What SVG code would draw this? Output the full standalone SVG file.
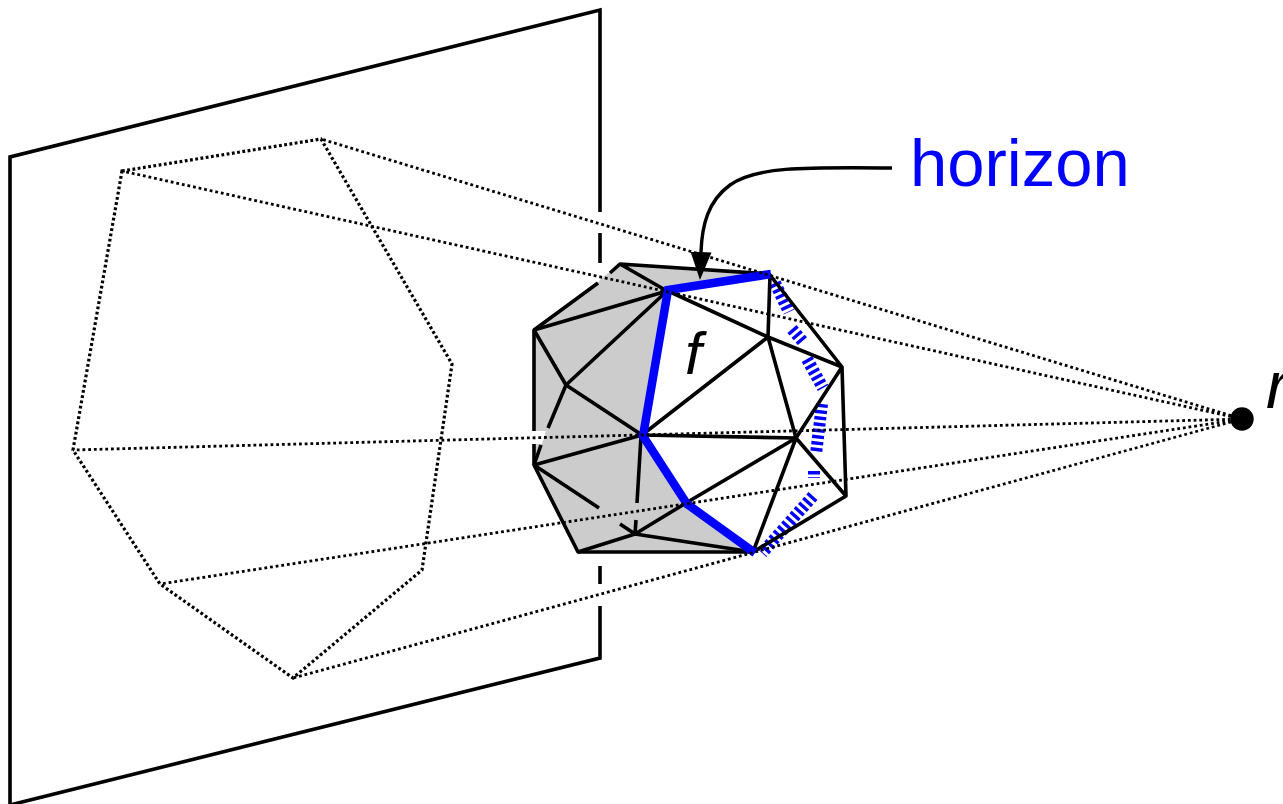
<svg xmlns="http://www.w3.org/2000/svg" width="1283" height="804" viewBox="0 0 1283 804">
<style>
.k{fill:none;stroke:#000;stroke-width:3.6;stroke-linejoin:round;stroke-linecap:butt}
.p{fill:none;stroke:#000;stroke-width:3.6}
.d{fill:none;stroke:#000;stroke-width:2.8;stroke-dasharray:2.8 2.9}
.o{fill:none;stroke:#000;stroke-width:3.2;stroke-dasharray:2.8 2.5}
.b{fill:none;stroke:#00f;stroke-width:8.5;stroke-linejoin:miter}
.h{fill:none;stroke:#00f;stroke-width:12;stroke-dasharray:3.4 2.9}
.t{font-family:"Liberation Sans",Arial,sans-serif}
</style>
<defs>
<marker id="ah" markerUnits="userSpaceOnUse" markerWidth="30" markerHeight="22" refX="0" refY="10.5" orient="auto" viewBox="0 0 30 21">
<path d="M0,0 L28,10.5 L0,21 Z" fill="#000"/>
</marker>
</defs>
<rect width="1283" height="804" fill="#fff"/>
<g id="plane">
<path class="p" d="M600,212 L600,10 L10,157 L10,805 L600,658 L600,606"/>
<path class="p" d="M600,233 V267 M600,566 V584"/>
</g>
<g id="shadow">
<path class="o" d="M122,171 L321,139 L452,364 L422,570 L293,678 L160,584 L73,450 Z"/>
</g>
<g id="polyhedron">
<path fill="#ccc" d="M620,264 L534,330 L534,465 L578,552 L753,552 L686,503 L642,435 L667,291 L700,285 L770,274 Z"/>
<path fill="#fff" d="M530,431 H546 L542,444 H530 Z M597,284 L607,270 L616,263 L585,263 Z"/>
<g id="hidden-edges">
<path class="k" d="M598,283 L534,330 L534,431 M534,444 L534,465 L578,552 L753,552"/>
<path class="k" d="M610,273 L620,264 L667,291 M620,264 L770,274"/>
<path class="k" d="M534,330 L667,291 M534,330 L566,385 L667,291 M566,385 L642,435 L534,465"/>
<path class="k" d="M566,385 L548,428 M541,445 L534,465"/>
<path class="k" d="M534,465 L599,508 M620,524 L635,534 M641,436 L637,503 M636,520 L635,534"/>
<path class="k" d="M578,552 L635,534 L753,552 M635,534 L686,503"/>
</g>
<g id="hidden-horizon">
<path class="h" d="M775,283 L789,312 M792,329 L804,343 M807,359 L823,388 M822,404 L816,454 M814,471 L814,478 M813,496 L762,553"/>
</g>
<g id="visible-edges">
<path class="k" d="M668,291 L768,337 L842,367 L770,275 L768,337 M768,337 L642,435 M768,337 L796,438 L842,367 L846,496 L796,438 M642,435 L796,438 L686,503 M796,438 L753,552 L846,496"/>
</g>
<g id="horizon-edge">
<path class="b" d="M771,274 L668,290 L643,436 L687,504 L755,553"/>
</g>
</g>
<g id="connectors">
<path class="d" d="M1242,419 L321,139 M1242,419 L122,171 M1242,419 L73,450 M1242,419 L160,584 M1242,419 L293,678"/>
<path d="M892,168 C800,167 755,167 730,185 C708,201 702,225 701,252" fill="none" stroke="#000" stroke-width="3.4" marker-end="url(#ah)"/>
</g>
<g id="r">
<circle cx="1242" cy="419" r="11.7" fill="#000"/>
<text class="t" x="1266" y="408" font-size="66" font-style="italic">r</text>
</g>
<g id="f"><text class="t" x="685" y="374" font-size="60" font-style="italic">f</text></g>
<g id="horizon"><text class="t" x="910" y="186" font-size="67" fill="#00f">horizon</text></g>
</svg>
